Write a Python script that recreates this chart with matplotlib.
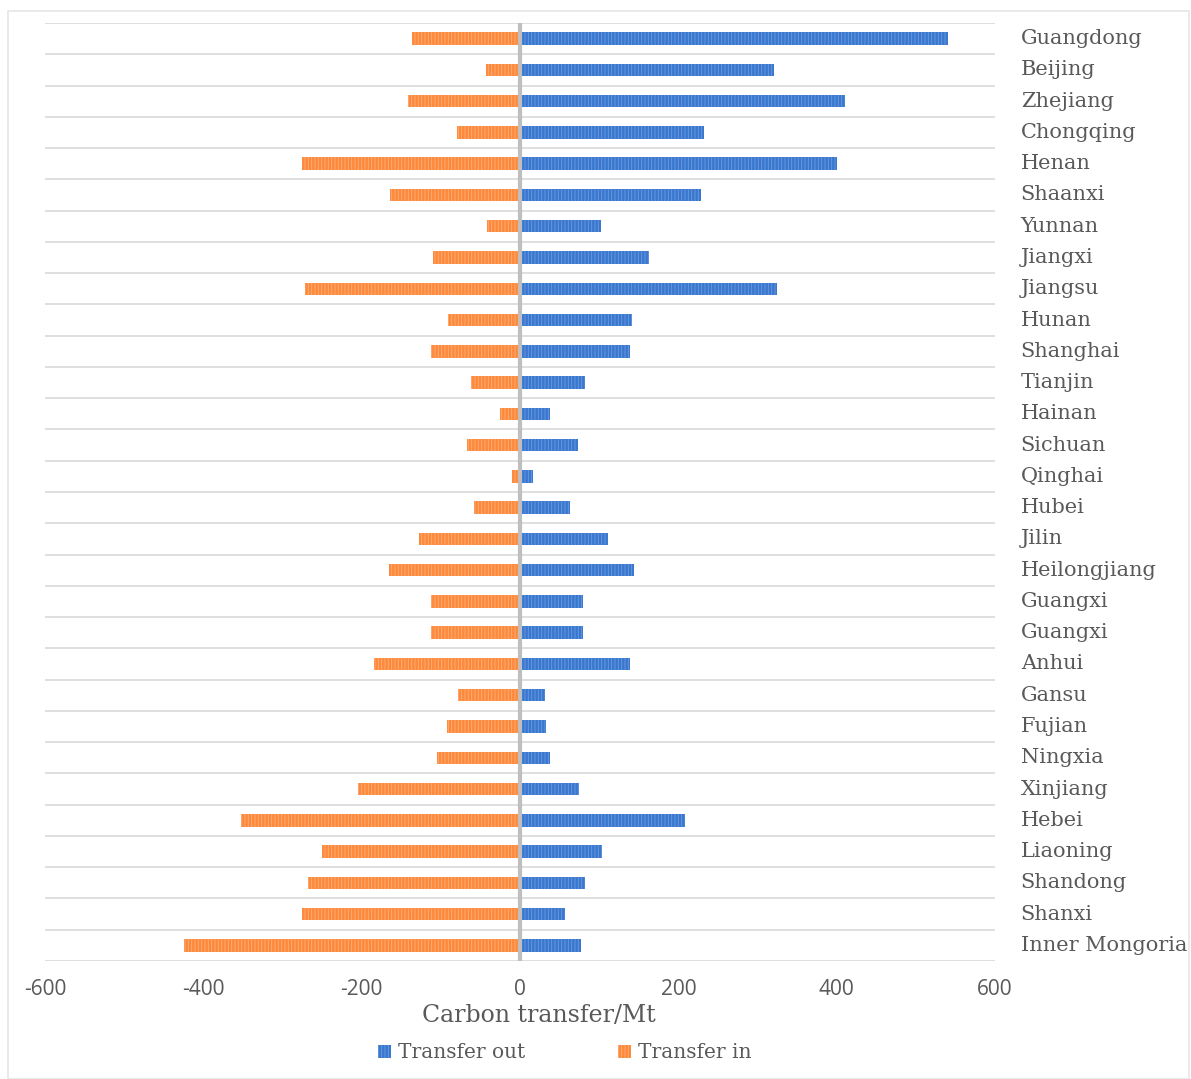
import matplotlib
matplotlib.use("Agg")
import matplotlib.pyplot as plt
from matplotlib.patches import Rectangle, Patch
import numpy as np

provinces = [
    "Guangdong", "Beijing", "Zhejiang", "Chongqing", "Henan", "Shaanxi",
    "Yunnan", "Jiangxi", "Jiangsu", "Hunan", "Shanghai", "Tianjin",
    "Hainan", "Sichuan", "Qinghai", "Hubei", "Jilin", "Heilongjiang",
    "Guangxi", "Guangxi", "Anhui", "Gansu", "Fujian", "Ningxia",
    "Xinjiang", "Hebei", "Liaoning", "Shandong", "Shanxi", "Inner Mongoria",
]
transfer_out = [541, 321, 411, 233, 401, 228, 102, 163, 324, 142, 139, 82,
                38, 73, 16, 63, 111, 144, 79, 79, 139, 32, 33, 38,
                74, 208, 103, 82, 57, 77]
transfer_in = [-137, -43, -141, -79, -275, -164, -42, -110, -271, -91, -112, -62,
               -25, -67, -10, -58, -127, -166, -113, -113, -184, -78, -92, -105,
               -205, -352, -250, -268, -275, -424]
xticks = [-600, -400, -200, 0, 200, 400, 600]

BLUE = "#3a78cf"
BLUE_HATCH = "#6c9be0"
ORANGE = "#fd8a3c"
ORANGE_HATCH = "#ffb07a"
TEXT = "#595959"
SERIF = ["DejaVu Serif"]
SANS = ["Open Sans", "DejaVu Sans"]

plt.rcParams["hatch.linewidth"] = 0.6

fig = plt.figure(figsize=(11.91, 10.79), dpi=100)
fig.patches.append(Rectangle((8 / 1191, 0), 1181 / 1191, 1 - 11 / 1079,
                             transform=fig.transFigure, fill=False,
                             edgecolor="#e6e6e6", linewidth=1.2))

ax = fig.add_axes([45 / 1191, 1 - 961 / 1079, 950 / 1191, 938 / 1079])
n = len(provinces)
y = np.arange(n)
h = 0.4

ax.barh(y, transfer_out, height=h, color=BLUE, edgecolor=BLUE_HATCH,
        hatch="|||||", linewidth=0, zorder=2)
ax.barh(y, transfer_in, height=h, color=ORANGE, edgecolor=ORANGE_HATCH,
        hatch="|||||", linewidth=0, zorder=2)

ax.set_ylim(n - 0.5, -0.5)
ax.set_xlim(-600, 600)
for b in np.arange(n + 1) - 0.5:
    ax.axhline(b, color="#d9d9d9", linewidth=1.2, zorder=1)
ax.axvline(0, color="#bfbfbf", linewidth=3, zorder=3)

for s in ax.spines.values():
    s.set_visible(False)
ax.set_yticks([])
ax.set_xticks(xticks)
ax.set_xticklabels([str(v) for v in xticks], family=SANS, fontsize=15,
                   color=TEXT)
ax.tick_params(axis="x", length=0, pad=13)

for yi, name in zip(y, provinces):
    ax.text(1.027, yi, name, transform=ax.get_yaxis_transform(),
            ha="left", va="center", family=SERIF, fontsize=15, color=TEXT)

fig.text(539 / 1191, 1 - 1015 / 1079, "Carbon transfer/Mt", ha="center",
         va="center", family=SERIF, fontsize=17, color=TEXT)

handles = [Patch(facecolor=BLUE, edgecolor=BLUE_HATCH, hatch="|||||",
                 linewidth=0, label="Transfer out"),
           Patch(facecolor=ORANGE, edgecolor=ORANGE_HATCH, hatch="|||||",
                 linewidth=0, label="Transfer in")]
fig.legend(handles=handles, loc="center", bbox_to_anchor=(565 / 1191, 1 - 1053 / 1079),
           ncol=2, frameon=False, handlelength=0.65, handleheight=0.65,
           handletextpad=0.35, columnspacing=4.6,
           prop={"family": SERIF, "size": 14.5}, labelcolor=TEXT)

fig.savefig("out.png", dpi=100, facecolor="white")
